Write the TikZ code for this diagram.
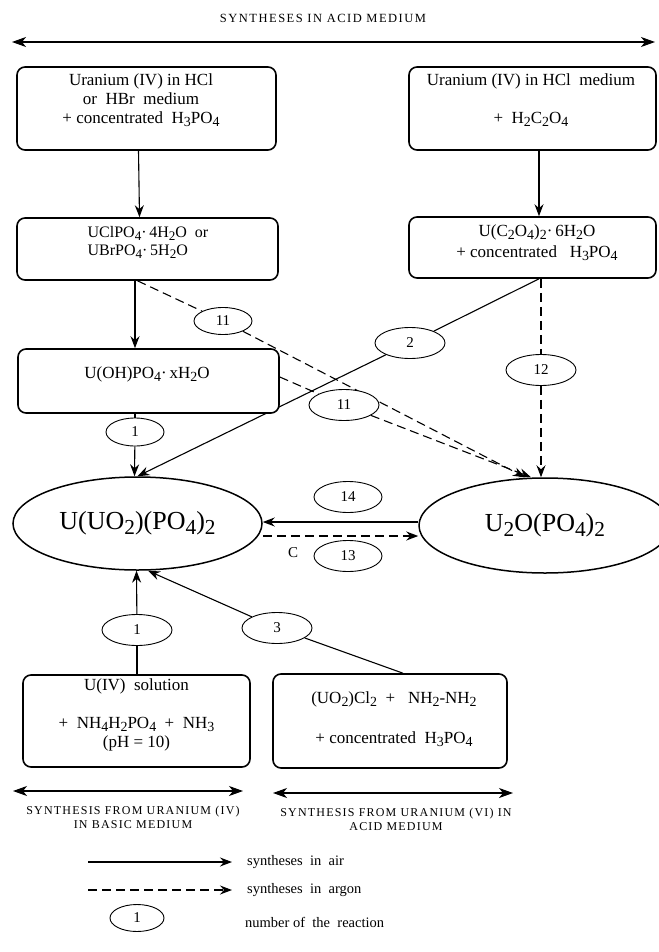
\documentclass[tikz,border=0pt]{standalone}
\usepackage{fontspec}
\setmainfont{Liberation Serif}
\usepackage{graphicx}
\usetikzlibrary{arrows.meta,shapes.geometric,calc}
\newcommand{\lo}[1]{\raisebox{-0.4ex}{\scalebox{0.82}{#1}}}
\newcommand{\fsz}[2]{\fontsize{#1}{#2}\selectfont}
\begin{document}
\begin{tikzpicture}[x=1pt,y=-1pt,
  rbox/.style={draw,line width=1.6pt,rounded corners=8pt,fill=white,inner sep=0pt},
  txt/.style={align=center,inner sep=0pt,font=\fsz{17}{19}},
  lbl/.style={ellipse,draw,line width=0.9pt,fill=white,inner sep=0pt,minimum width=70pt,minimum height=31pt,font=\fsz{15}{18}},
  big/.style={ellipse,draw,line width=1.5pt,fill=white,inner sep=0pt,font=\fsz{26}{30}},
  ln/.style={line width=1.1pt},
  arr/.style={ln,-{Stealth[length=12pt,width=9pt,inset=4pt]}},
  dbl/.style={ln,{Stealth[length=14pt,width=10pt,inset=4pt]}-{Stealth[length=14pt,width=10pt,inset=4pt]}},
  dsh/.style={dash pattern=on 9pt off 5pt},
  caps/.style={font=\fsz{12}{14}\addfontfeatures{LetterSpace=10},align=center,inner sep=0pt},
  leg/.style={font=\fsz{14.5}{17},anchor=west,inner sep=0pt},
]
\path[use as bounding box] (0,0) rectangle (658,952);

% title and top arrow
\node[caps,font=\fsz{12.5}{14}\addfontfeatures{LetterSpace=12}] (title) at (323,18) {SYNTHESES IN ACID MEDIUM};
\coordinate (tl) at (12,42);
\coordinate (tr) at (655,42);
\draw[dbl] (tl) -- (tr);

% line 2 passes behind box E (drawn first)
\node[rbox,minimum width=247pt,minimum height=61pt] (D) at (532.5,247.5) {};
\node[big] (L) at (137.5,523.5) [minimum width=249pt,minimum height=93pt] {U(UO\lo{2})(PO\lo{4})\lo{2}};
\node[lbl] (l2) at (410,343) {2};
\draw[ln] ([xshift=6.5pt]D.south) -- (l2);
\draw[arr] (l2) -- (L.north);

% top boxes
\node[rbox,minimum width=259pt,minimum height=83pt] (A) at (146.5,108.5) {};
\node[txt] (Atxt) at (141,100) {Uranium (IV) in HCl\\or\enspace HBr\enspace medium\\+ concentrated\enspace H\lo{3}PO\lo{4}};
\node[rbox,minimum width=247pt,minimum height=83pt] (C) at (532.5,108.5) {};
\node[txt] (Ctxt) at (531,100.5) {Uranium (IV) in HCl\enspace medium\\[19pt]+\enspace H\lo{2}C\lo{2}O\lo{4}};
\node[rbox,minimum width=261pt,minimum height=62pt] (B) at (147.5,249) {};
\node[txt,align=left,font=\fsz{16}{18}] (Btxt) at (148,242) {UClPO\lo{4}\textperiodcentered\,4H\lo{2}O\enspace or\\UBrPO\lo{4}\textperiodcentered\,5H\lo{2}O};
\node[txt,font=\fsz{17}{21}] (Dtxt) at (537,242.5) {U(C\lo{2}O\lo{4})\lo{2}\textperiodcentered\,6H\lo{2}O\\+ concentrated\enspace\ H\lo{3}PO\lo{4}};

\draw[arr] ([xshift=-8pt]A.south) -- ([xshift=-8pt]B.north);
\draw[arr] ([xshift=6.5pt]C.south) -- ([xshift=6.5pt]D.north);

% right ellipse
\node[big] (R) at (545,525.5) [minimum width=252pt,minimum height=95pt] {U\lo{2}O(PO\lo{4})\lo{2}};

% dashed reactions 11 and 12
\node[lbl,minimum width=58pt,minimum height=27pt] (l11a) at (223,321) {11};
\draw[ln,dsh] ([xshift=-10pt]B.south) -- (l11a);
\draw[arr,dsh] (l11a) -- ([xshift=-20pt]R.north);
\node[lbl] (l12) at (541,370) {12};
\draw[ln,dsh] ([xshift=8.5pt]D.south) -- (l12);
\draw[arr,dsh] (l12) -- ([xshift=-4pt]R.north);

% box E
\node[rbox,minimum width=261pt,minimum height=64pt] (E) at (148.5,381) {};
\node[txt] (Etxt) at (147,374) {U(OH)PO\lo{4}\textperiodcentered\,xH\lo{2}O};
\draw[arr] ([xshift=-12.5pt]B.south) -- ([xshift=-13.5pt]E.north);

\node[lbl] (l11b) at (344,405) {11};
\draw[ln,dsh] ([yshift=4pt]E.east) -- (l11b);
\draw[arr,dsh] (l11b) -- ([xshift=-14pt]R.north);

\node[lbl,minimum width=58pt,minimum height=28pt] (l1a) at (135,432) {1};
\draw[ln] ([xshift=-13.5pt]E.south) -- (l1a);
\draw[arr] (l1a) -- ([xshift=-3pt]L.north);

% reactions 13, 14
\coordinate (Rs) at ([yshift=3.5pt]R.west);
\draw[arr,line width=1.4pt] (Rs) -- (Rs -| L.east);
\coordinate (Ld) at ([yshift=-12.5pt]L.east);
\draw[arr,dsh,line width=1.8pt] (Ld) -- (Ld -| R.west);
\node[lbl,minimum width=68pt] (l14) at (348,497) {14};
\node[lbl,minimum width=68pt] (l13) at (348,556) {13};
\node[font=\fsz{15}{18},inner sep=0pt] (Clab) at (293,553) {C};

% bottom boxes
\node[rbox,minimum width=227pt,minimum height=92pt] (F) at (136.5,721) {};
\node[txt] (Ftxt) at (136.5,715) {U(IV)\enspace solution\\[19pt]+\enspace NH\lo{4}H\lo{2}PO\lo{4}\enspace+\enspace NH\lo{3}\\(pH = 10)};
\node[rbox,minimum width=234pt,minimum height=94pt] (G) at (390,721) {};
\node[txt] (Gtxt) at (394,719) {(UO\lo{2})Cl\lo{2}\enspace+\enspace\ NH\lo{2}-NH\lo{2}\\[21pt]+ concentrated\enspace H\lo{3}PO\lo{4}};

\node[lbl] (l1b) at (137,630) {1};
\draw[ln] (l1b |- F.north) -- (l1b);
\draw[arr] (l1b) -- ([xshift=-1pt]L.south);
\node[lbl] (l3) at (277,628) {3};
\draw[ln] ([xshift=13pt]G.north) -- (l3);
\draw[arr] (l3) -- ([xshift=10.5pt]L.south);

% bottom ranges
\coordinate (bl1) at (13,791);
\coordinate (bl2) at (243,791);
\draw[dbl] (bl1) -- (bl2);
\coordinate (br1) at (273,793);
\coordinate (br2) at (513,793);
\draw[dbl] (br1) -- (br2);
\node[caps] (capL) at (133,817) {SYNTHESIS FROM URANIUM (IV)\\IN BASIC MEDIUM};
\node[caps] (capR) at (396,819) {SYNTHESIS FROM URANIUM (VI) IN\\ACID MEDIUM};

% legend
\coordinate (la1) at (88,862);
\coordinate (la2) at (232,862);
\draw[arr] (la1) -- (la2);
\coordinate (lb1) at (88,890);
\coordinate (lb2) at (232,890);
\draw[arr,dsh] (lb1) -- (lb2);
\node[lbl,minimum width=54pt,minimum height=27pt] (lc) at (137,918) {1};
\node[leg] (t1) at (247,862) {syntheses\enspace in\enspace air};
\node[leg] (t2) at (247,890) {syntheses\enspace in\enspace argon};
\node[leg] (t3) at (245,922) {number of\enspace the\enspace reaction};
\end{tikzpicture}
\end{document}
